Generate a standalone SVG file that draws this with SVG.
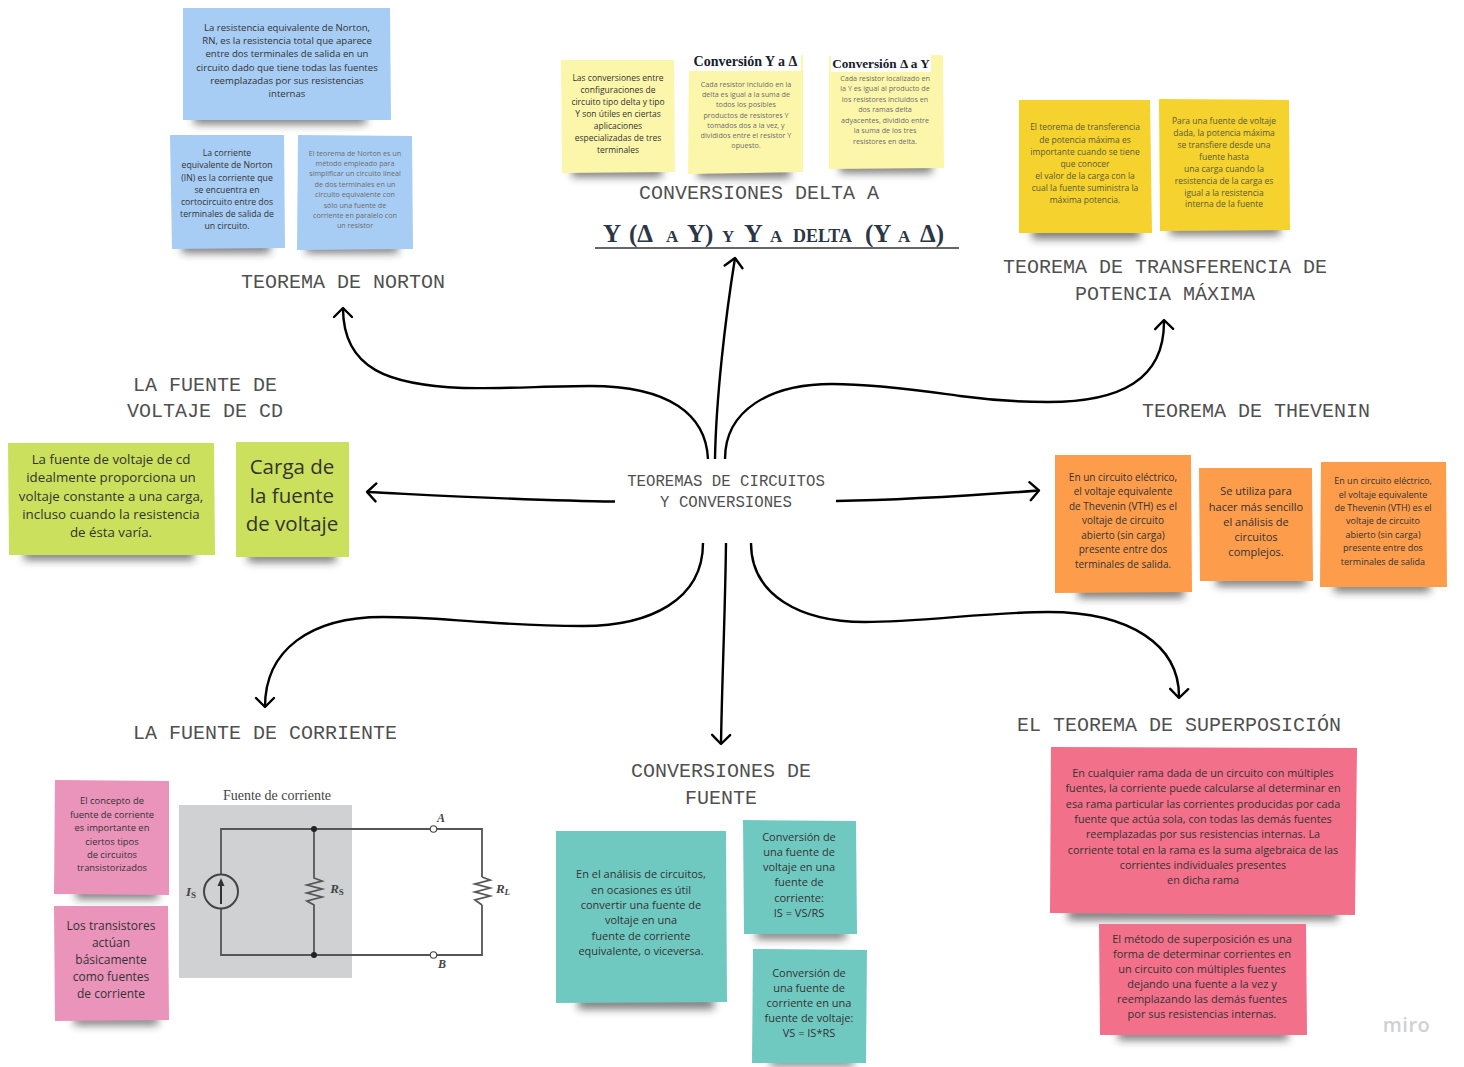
<svg xmlns="http://www.w3.org/2000/svg" width="1464" height="1067" viewBox="0 0 1464 1067">
<defs>
<filter id="blur" x="-30%" y="-150%" width="160%" height="400%"><feGaussianBlur stdDeviation="4.500"/></filter>
<marker id="arrow" markerUnits="userSpaceOnUse" markerWidth="24" markerHeight="24" viewBox="-14 -12 24 24" refX="0" refY="0" orient="auto"><path d="M-9,-9 L0,0 L-9,9" fill="none" stroke="#000" stroke-width="2.4" stroke-linecap="round" stroke-linejoin="round"/></marker>
</defs>
<style>
text{font-family:"Open Sans","Noto Sans","DejaVu Sans",sans-serif;text-anchor:middle;fill:#333}
.title text,text.title{font-family:"Liberation Mono","DejaVu Sans Mono",monospace;font-size:20px;fill:#505050}
.shadow{fill:#222;opacity:.6;filter:url(#blur)}
.blue{fill:#a7cdf5}.yellow{fill:#fcf6ab}.gold{fill:#f5d22e}.orange{fill:#fd9c4b}.green{fill:#cbe05c}.pink{fill:#ea93bb}.teal{fill:#70c9c1}.red{fill:#f2708a}
.faint{fill:#6c6c6c}
.gray{fill:#5a5a3a}
.head{font-family:"Liberation Serif",serif;font-weight:700;font-size:14px;fill:#16202c}
.conn{fill:none;stroke:#000;stroke-width:2.4;stroke-linecap:butt;marker-end:url(#arrow)}
.wire{fill:none;stroke:#555;stroke-width:1.800}
.ser{font-family:"Liberation Serif",serif;fill:#444}
.it{font-style:italic;font-weight:700}
.cap{font-family:"Liberation Serif",serif;font-weight:700;fill:#2b3646;text-anchor:start}
</style>

<g id="connectors">
<path class="conn" d="M708,459 C706,415 670,386 590,386 C550,386 500,389 463,388 C390,385 343,370 343,308"/>
<path class="conn" d="M715,459 C716,400 725,320 735,258"/>
<path class="conn" d="M725,459 C725,410 770,384 832,384 C880,384 930,392 960,396 C990,400 1020,402 1048,402 C1120,402 1165,380 1164,320"/>
<path class="conn" d="M615,501.500 C540,501 450,496 367,492"/>
<path class="conn" d="M836,501 C900,500 980,495 1039,490.500"/>
<path class="conn" d="M703,543 C703,600 650,626 583,626 C540,626 510,624 483,622 C450,620 420,617 383,617 C310,617 265,650 265,707"/>
<path class="conn" d="M726,543 C725,620 722,680 721,744"/>
<path class="conn" d="M751,543 C751,595 800,622 865,622 C920,622 990,612 1048,612 C1130,612 1180,645 1179,698"/>
</g>

<g id="center"><text class="title" style="font-size:15.700px" x="726" y="486">TEOREMAS DE CIRCUITOS</text><text class="title" style="font-size:15.700px" x="726" y="507">Y CONVERSIONES</text></g>

<g id="norton">
<text class="title" x="343" y="288">TEOREMA DE NORTON</text>
<rect class="shadow" x="194" y="112" width="172" height="12"/>
<polygon class="blue" points="183,8 390,8 391,120 183,120"/>
<text font-size="9.600" ><tspan x="287" y="31">La resistencia equivalente de Norton,</tspan><tspan x="287" y="44">RN, es la resistencia total que aparece</tspan><tspan x="287" y="57">entre dos terminales de salida en un</tspan><tspan x="287" y="70.500">circuito dado que tiene todas las fuentes</tspan><tspan x="287" y="84">reemplazadas por sus resistencias</tspan><tspan x="287" y="97">internas</tspan></text>
<rect class="shadow" x="182" y="241" width="88" height="12"/>
<polygon class="blue" points="170,135 284,135 285,248 172,249"/>
<text font-size="8.700"><tspan x="227" y="155.500">La corriente</tspan><tspan x="227" y="168">equivalente de Norton</tspan><tspan x="227" y="180.500">(IN) es la corriente que</tspan><tspan x="227" y="192.500">se encuentra en</tspan><tspan x="227" y="205">cortocircuito entre dos</tspan><tspan x="227" y="217">terminales de salida de</tspan><tspan x="227" y="229">un circuito.</tspan></text>
<rect class="shadow" x="306" y="242" width="92" height="11"/>
<polygon class="blue" points="298,135 412,136 413,249 297,250"/>
<text font-size="7.200" class="faint"><tspan x="355" y="155.500">El teorema de Norton es un</tspan><tspan x="355" y="166">método empleado para</tspan><tspan x="355" y="176">simplificar un circuito lineal</tspan><tspan x="355" y="186.500">de dos terminales en un</tspan><tspan x="355" y="197">circuito equivalente con</tspan><tspan x="355" y="207.500">sólo una fuente de</tspan><tspan x="355" y="218">corriente en paralelo con</tspan><tspan x="355" y="228">un resistor</tspan></text>
</g>

<g id="delta">
<text class="title" x="759" y="199">CONVERSIONES DELTA A</text>
<rect class="shadow" x="572" y="165" width="90" height="12"/>
<polygon class="yellow" points="561,60 674,60 675,172 562,173"/>
<text font-size="8.500"><tspan x="618" y="80.500">Las conversiones entre</tspan><tspan x="618" y="92.500">configuraciones de</tspan><tspan x="618" y="105">circuito tipo delta y tipo</tspan><tspan x="618" y="117">Y son útiles en ciertas</tspan><tspan x="618" y="129">aplicaciones</tspan><tspan x="618" y="141">especializadas de tres</tspan><tspan x="618" y="153">terminales</tspan></text>
<rect class="shadow" x="698" y="166" width="92" height="12"/>
<polygon class="yellow" points="689,55 803,55 803,172 688,174"/>
<rect x="689" y="53" width="112" height="18" fill="#fff"/>
<text class="head" x="745.500" y="66">Conversión Y a Δ</text>
<text font-size="7.200" class="faint"><tspan x="746" y="86.500">Cada resistor incluido en la</tspan><tspan x="746" y="97">delta es igual a la suma de</tspan><tspan x="746" y="107">todos los posibles</tspan><tspan x="746" y="117.500">productos de resistores Y</tspan><tspan x="746" y="127.500">tomados dos a la vez, y</tspan><tspan x="746" y="138">divididos entre el resistor Y</tspan><tspan x="746" y="148">opuesto.</tspan></text>
<rect class="shadow" x="840" y="161" width="92" height="12"/>
<polygon class="yellow" points="829,56 943,55 944,168 829,169"/>
<rect x="831" y="54" width="100" height="18" fill="#fff"/>
<text class="head" style="font-size:13.200px" x="881" y="67.500">Conversión Δ a Y</text>
<text font-size="7.200" class="faint"><tspan x="885" y="81">Cada resistor localizado en</tspan><tspan x="885" y="91">la Y es igual al producto de</tspan><tspan x="885" y="101.500">los resistores incluidos en</tspan><tspan x="885" y="112">dos ramas delta</tspan><tspan x="885" y="122.500">adyacentes, dividido entre</tspan><tspan x="885" y="133">la suma de los tres</tspan><tspan x="885" y="143.500">resistores en delta.</tspan></text>
<line x1="595" y1="248" x2="959" y2="248" stroke="#666" stroke-width="2"/>
<text class="cap" y="242"><tspan x="603" font-size="25">Y</tspan><tspan x="629" font-size="25">(Δ</tspan><tspan x="666" font-size="17">A</tspan><tspan x="687" font-size="25">Y)</tspan><tspan x="722" font-size="17">Y</tspan><tspan x="744" font-size="26">Y</tspan><tspan x="770" font-size="17">A</tspan><tspan x="793" font-size="18">DELTA</tspan><tspan x="865" font-size="25">(Y</tspan><tspan x="898" font-size="17">A</tspan><tspan x="920" font-size="25">Δ)</tspan></text>
</g>

<g id="potencia">
<text class="title"><tspan x="1165" y="273">TEOREMA DE TRANSFERENCIA DE</tspan><tspan x="1165" y="300">POTENCIA MÁXIMA</tspan></text>
<rect class="shadow" x="1032" y="226" width="108" height="13"/>
<polygon class="gold" points="1019,100 1150,100 1152,233 1019,233"/>
<text font-size="8.500" class="gray"><tspan x="1085" y="130">El teorema de transferencia</tspan><tspan x="1085" y="143">de potencia máxima es</tspan><tspan x="1085" y="155">importante cuando se tiene</tspan><tspan x="1085" y="167">que conocer</tspan><tspan x="1085" y="179">el valor de la carga con la</tspan><tspan x="1085" y="191">cual la fuente suministra la</tspan><tspan x="1085" y="203">máxima potencia.</tspan></text>
<rect class="shadow" x="1170" y="224" width="110" height="11"/>
<polygon class="gold" points="1159,99 1289,100 1290,230 1160,231"/>
<text font-size="8.500" class="gray"><tspan x="1224" y="124">Para una fuente de voltaje</tspan><tspan x="1224" y="136">dada, la potencia máxima</tspan><tspan x="1224" y="148">se transfiere desde una</tspan><tspan x="1224" y="160">fuente hasta</tspan><tspan x="1224" y="172">una carga cuando la</tspan><tspan x="1224" y="184">resistencia de la carga es</tspan><tspan x="1224" y="195.500">igual a la resistencia</tspan><tspan x="1224" y="207">interna de la fuente</tspan></text>
</g>

<g id="thevenin">
<text class="title" x="1256" y="417">TEOREMA DE THEVENIN</text>
<rect class="shadow" x="1078" y="586" width="106" height="12"/>
<polygon class="orange" points="1055,455 1191,455 1192,592 1055,593"/>
<text font-size="10"><tspan x="1123" y="480.500">En un circuito eléctrico,</tspan><tspan x="1123" y="495">el voltaje equivalente</tspan><tspan x="1123" y="509.500">de Thevenin (VTH) es el</tspan><tspan x="1123" y="524">voltaje de circuito</tspan><tspan x="1123" y="538.500">abierto (sin carga)</tspan><tspan x="1123" y="553">presente entre dos</tspan><tspan x="1123" y="568">terminales de salida.</tspan></text>
<rect class="shadow" x="1216" y="575" width="90" height="11"/>
<polygon class="orange" points="1199,468 1312,468 1313,581 1200,581"/>
<text font-size="11"><tspan x="1256" y="495">Se utiliza para</tspan><tspan x="1256" y="511">hacer más sencillo</tspan><tspan x="1256" y="526">el análisis de</tspan><tspan x="1256" y="541">circuitos</tspan><tspan x="1256" y="556">complejos.</tspan></text>
<rect class="shadow" x="1334" y="581" width="96" height="11"/>
<polygon class="orange" points="1321,462 1446,462 1447,587 1320,587"/>
<text font-size="9"><tspan x="1383" y="483.500">En un circuito eléctrico,</tspan><tspan x="1383" y="497.500">el voltaje equivalente</tspan><tspan x="1383" y="510.500">de Thevenin (VTH) es el</tspan><tspan x="1383" y="524">voltaje de circuito</tspan><tspan x="1383" y="537.500">abierto (sin carga)</tspan><tspan x="1383" y="551">presente entre dos</tspan><tspan x="1383" y="564.500">terminales de salida</tspan></text>
</g>

<g id="fuente-cd">
<text class="title"><tspan x="205" y="391">LA FUENTE DE</tspan><tspan x="205" y="417">VOLTAJE DE CD</tspan></text>
<rect class="shadow" x="24" y="549" width="170" height="11"/>
<polygon class="green" points="8,443 214,443 215,555 9,555"/>
<text font-size="13.300"><tspan x="111" y="464">La fuente de voltaje de cd</tspan><tspan x="111" y="482">idealmente proporciona un</tspan><tspan x="111" y="501">voltaje constante a una carga,</tspan><tspan x="111" y="519">incluso cuando la resistencia</tspan><tspan x="111" y="537">de ésta varía.</tspan></text>
<rect class="shadow" x="248" y="551" width="88" height="11"/>
<polygon class="green" points="236,442 349,442 349,557 236,557"/>
<text font-size="20.500"><tspan x="292" y="474">Carga de</tspan><tspan x="292" y="503">la fuente</tspan><tspan x="292" y="531">de voltaje</tspan></text>
</g>

<g id="fuente-corriente">
<text class="title" x="265" y="739">LA FUENTE DE CORRIENTE</text>
<rect class="shadow" x="76" y="888" width="82" height="11"/>
<polygon class="pink" points="55,780 169,781 169,895 54,894"/>
<text font-size="9.400"><tspan x="112" y="804">El concepto de</tspan><tspan x="112" y="818">fuente de corriente</tspan><tspan x="112" y="831">es importante en</tspan><tspan x="112" y="845">ciertos tipos</tspan><tspan x="112" y="858">de circuitos</tspan><tspan x="112" y="871">transistorizados</tspan></text>
<rect class="shadow" x="74" y="1015" width="84" height="10"/>
<polygon class="pink" points="54,906 168,906 169,1020 55,1021"/>
<text font-size="12"><tspan x="111" y="930">Los transistores</tspan><tspan x="111" y="947">actúan</tspan><tspan x="111" y="964">básicamente</tspan><tspan x="111" y="981">como fuentes</tspan><tspan x="111" y="998">de corriente</tspan></text>
</g>

<g id="circuito">
<rect x="179" y="805" width="173" height="173" fill="#d0d1d3"/>
<text class="ser" font-size="14" x="277" y="800">Fuente de corriente</text>
<path class="wire" d="M221,875 V829 H430 M437,829 H482 V877 M482,905 V955 H437 M430,955 H221 V909"/>
<path class="wire" d="M314,829 V878 L322,881 L307,885 L322,889 L307,893 L322,897 L307,901 L314,905 V955"/>
<path class="wire" d="M482,877 L490,880 L475,884 L490,888 L475,892 L490,896 L475,900 L482,905"/>
<circle cx="221" cy="891.500" r="17" fill="none" stroke="#444" stroke-width="2"/>
<path d="M221,904 V882" stroke="#333" stroke-width="2"/>
<path d="M221,878 L224.500,886 H217.500 Z" fill="#333"/>
<circle cx="314" cy="829" r="3" fill="#222"/><circle cx="314" cy="955" r="3" fill="#222"/>
<circle cx="433.500" cy="829" r="3.200" fill="#fff" stroke="#444" stroke-width="1.100"/><circle cx="433.500" cy="955" r="3.200" fill="#fff" stroke="#444" stroke-width="1.100"/>
<text class="ser it" font-size="12" x="441" y="822">A</text>
<text class="ser it" font-size="12" x="442" y="968">B</text>
<text class="ser it" font-size="13" x="191" y="896">I<tspan font-size="9" dy="2" font-style="normal">S</tspan></text>
<text class="ser it" font-size="13" x="337" y="893">R<tspan font-size="9" dy="2" font-style="normal">S</tspan></text>
<text class="ser it" font-size="13" x="503" y="893">R<tspan font-size="9" dy="2">L</tspan></text>
</g>

<g id="conversiones-fuente">
<text class="title"><tspan x="721" y="777">CONVERSIONES DE</tspan><tspan x="721" y="804">FUENTE</tspan></text>
<rect class="shadow" x="578" y="997" width="136" height="12"/>
<polygon class="teal" points="556,831 726,831 727,1002 556,1003"/>
<text font-size="11"><tspan x="641" y="878">En el análisis de circuitos,</tspan><tspan x="641" y="894">en ocasiones es útil</tspan><tspan x="641" y="909">convertir una fuente de</tspan><tspan x="641" y="924">voltaje en una</tspan><tspan x="641" y="940">fuente de corriente</tspan><tspan x="641" y="955">equivalente, o viceversa.</tspan></text>
<rect class="shadow" x="756" y="929" width="90" height="10"/>
<polygon class="teal" points="743,820 856,821 857,934 744,934"/>
<text font-size="11"><tspan x="799" y="841">Conversión de</tspan><tspan x="799" y="856">una fuente de</tspan><tspan x="799" y="871">voltaje en una</tspan><tspan x="799" y="886">fuente de</tspan><tspan x="799" y="902">corriente:</tspan><tspan x="799" y="917">IS = VS/RS</tspan></text>
<rect class="shadow" x="770" y="1058" width="84" height="8"/>
<polygon class="teal" points="753,949 867,950 866,1063 752,1063"/>
<text font-size="11"><tspan x="809" y="977">Conversión de</tspan><tspan x="809" y="992">una fuente de</tspan><tspan x="809" y="1007">corriente en una</tspan><tspan x="809" y="1022">fuente de voltaje:</tspan><tspan x="809" y="1037">VS = IS*RS</tspan></text>
</g>

<g id="superposicion">
<text class="title" x="1179" y="731">EL TEOREMA DE SUPERPOSICIÓN</text>
<rect class="shadow" x="1068" y="908" width="270" height="12"/>
<polygon class="red" points="1051,747 1357,748 1355,915 1050,913"/>
<text font-size="10.800"><tspan x="1203" y="777">En cualquier rama dada de un circuito con múltiples</tspan><tspan x="1203" y="792">fuentes, la corriente puede calcularse al determinar en</tspan><tspan x="1203" y="808">esa rama particular las corrientes producidas por cada</tspan><tspan x="1203" y="823">fuente que actúa sola, con todas las demás fuentes</tspan><tspan x="1203" y="838">reemplazadas por sus resistencias internas. La</tspan><tspan x="1203" y="854">corriente total en la rama es la suma algebraica de las</tspan><tspan x="1203" y="869">corrientes individuales presentes</tspan><tspan x="1203" y="884">en dicha rama</tspan></text>
<rect class="shadow" x="1118" y="1029" width="170" height="11"/>
<polygon class="red" points="1099,924 1306,924 1307,1035 1100,1035"/>
<text font-size="11"><tspan x="1202" y="943">El método de superposición es una</tspan><tspan x="1202" y="958">forma de determinar corrientes en</tspan><tspan x="1202" y="973">un circuito con múltiples fuentes</tspan><tspan x="1202" y="988">dejando una fuente a la vez y</tspan><tspan x="1202" y="1003">reemplazando las demás fuentes</tspan><tspan x="1202" y="1018">por sus resistencias internas.</tspan></text>
</g>

<text x="1406.500" y="1032" font-size="20" font-weight="600" letter-spacing="0.500" style="fill:#cdd1d6">miro</text>
</svg>
